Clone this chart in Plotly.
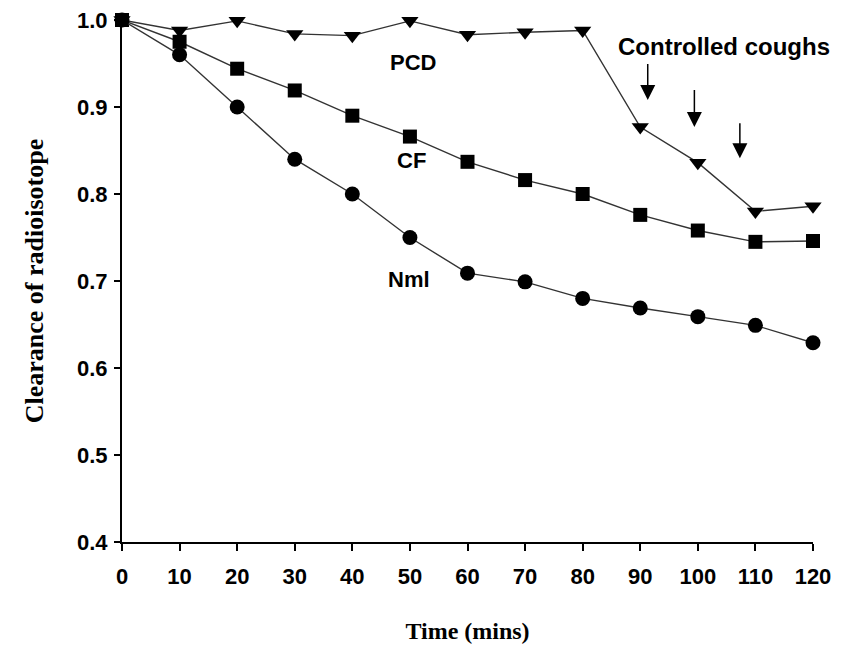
import plotly.graph_objects as go

time_min = [0, 10, 20, 30, 40, 50, 60, 70, 80, 90, 100, 110, 120]
pcd = [1.0, 0.988, 0.999, 0.984, 0.982, 0.999, 0.983, 0.986, 0.988, 0.877, 0.836, 0.780, 0.786]
cf = [1.0, 0.975, 0.944, 0.919, 0.890, 0.866, 0.837, 0.816, 0.800, 0.776, 0.758, 0.745, 0.746]
nml = [1.0, 0.960, 0.900, 0.840, 0.800, 0.750, 0.709, 0.699, 0.680, 0.669, 0.659, 0.649, 0.629]

series_labels = ["PCD", "CF", "Nml"]
label_pos = [(50.5, 0.951), (50.3, 0.839), (49.9, 0.702)]
cough_text = "Controlled coughs"
cough_text_pos = (104.5, 0.969)
cough_arrows = [(91.3, 0.950, 0.908), (99.4, 0.920, 0.877), (107.3, 0.882, 0.841)]

y_ticks = [0.4, 0.5, 0.6, 0.7, 0.8, 0.9, 1.0]
x_ticks = list(range(0, 121, 10))

line_col = "#333333"
fig = go.Figure()
for vals, sym, size in [(pcd, "triangle-down", 15), (cf, "square", 14), (nml, "circle", 15)]:
    fig.add_trace(go.Scatter(
        x=time_min, y=vals, mode="lines+markers",
        line=dict(color=line_col, width=1.4),
        marker=dict(symbol=sym, size=size, color="black", line=dict(width=0)),
        cliponaxis=False, showlegend=False))

sans = "Liberation Sans, Arial, sans-serif"
serif = "Liberation Serif, Times New Roman, serif"

for txt, (lx, ly) in zip(series_labels, label_pos):
    fig.add_annotation(x=lx, y=ly, text=f"<b>{txt}</b>", showarrow=False,
                       font=dict(family=sans, size=22, color="black"))
fig.add_annotation(x=cough_text_pos[0], y=cough_text_pos[1], text=f"<b>{cough_text}</b>",
                   showarrow=False, font=dict(family=sans, size=24, color="black"))
for ax_, y0, y1 in cough_arrows:
    fig.add_annotation(x=ax_, y=y1, ax=ax_, ay=y0, axref="x", ayref="y", text="",
                       font=dict(size=1), borderpad=0,
                       showarrow=True, arrowhead=2, arrowsize=2.0, arrowwidth=1.5,
                       arrowcolor="black")

fig.update_layout(
    width=849, height=645,
    margin=dict(l=122, r=36, t=20, b=103),
    paper_bgcolor="white", plot_bgcolor="white",
    xaxis=dict(range=[0, 120], tickvals=x_ticks, ticks="outside", ticklen=7, tickwidth=2,
               tickcolor="black", showline=True, linecolor="black", linewidth=2,
               showgrid=False, zeroline=False, ticklabelstandoff=7, automargin=False,
               tickfont=dict(family=sans, size=22, color="black", weight="bold"),
               title=dict(text="<b>Time (mins)</b>", font=dict(family=serif, size=24, color="black"),
                          standoff=34)),
    yaxis=dict(range=[0.4, 1.0], tickvals=y_ticks, tickformat=".1f", ticks="outside", ticklen=6,
               tickwidth=2, tickcolor="black", showline=True, linecolor="black", linewidth=2,
               showgrid=False, zeroline=False, ticklabelstandoff=2, automargin=False,
               tickfont=dict(family=sans, size=22, color="black", weight="bold"),
               title=dict(text="<b>Clearance of radioisotope</b>",
                          font=dict(family=serif, size=26, color="black"), standoff=26)),
)
fig.write_html("out.html")
